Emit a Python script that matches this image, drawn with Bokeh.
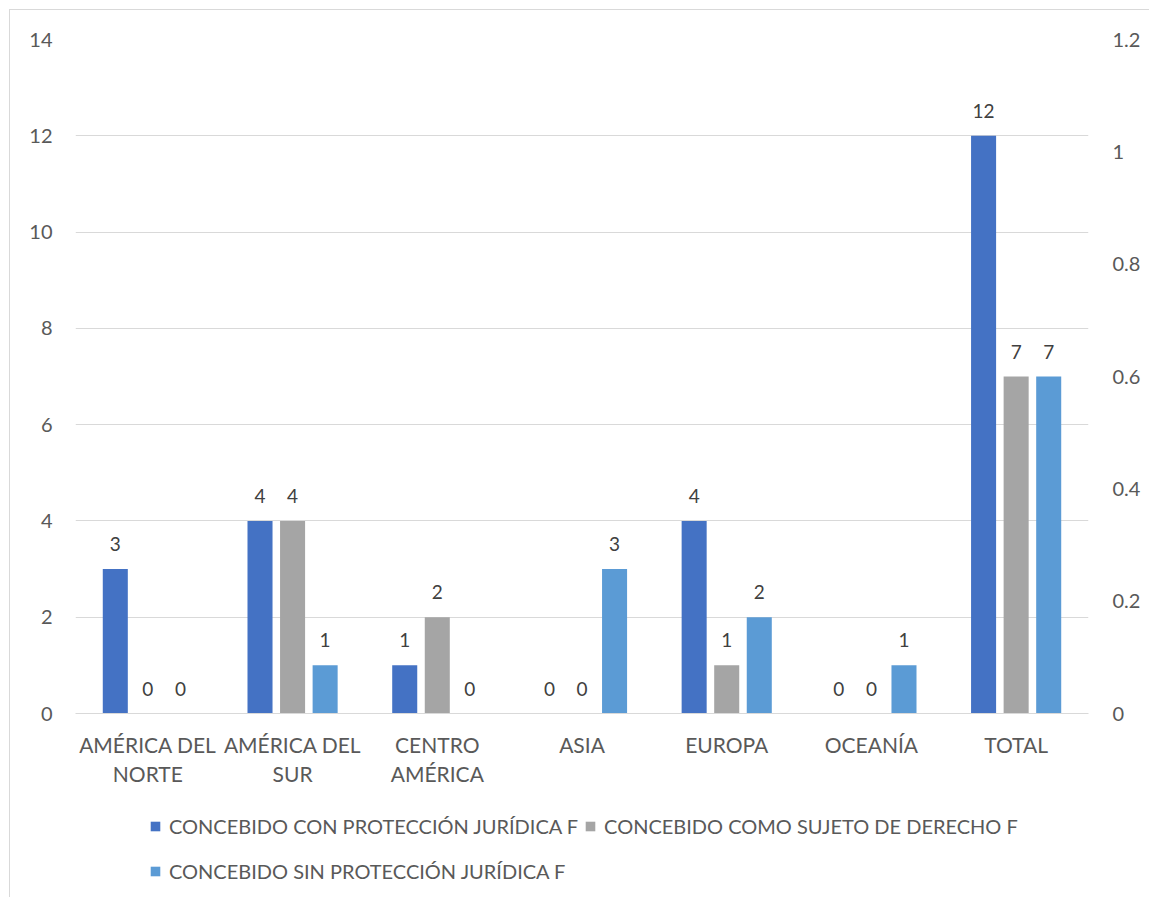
from bokeh.plotting import figure
from bokeh.layouts import column
from bokeh.models import (ColumnDataSource, FactorRange, Range1d, LinearAxis, FixedTicker,
                          CustomJSTickFormatter, Legend, LegendItem)
from bokeh.transform import dodge
from bokeh.core.properties import value
from bokeh.embed import file_html
from bokeh.resources import INLINE

categories = ["AMÉRICA DEL\nNORTE", "AMÉRICA DEL\nSUR", "CENTRO\nAMÉRICA", "ASIA", "EUROPA", "OCEANÍA", "TOTAL"]
con_proteccion = [3, 4, 1, 0, 4, 0, 12]
sujeto_derecho = [0, 4, 2, 0, 1, 0, 7]
sin_proteccion = [0, 1, 0, 3, 2, 1, 7]
series_names = ["CONCEBIDO CON PROTECCIÓN JURÍDICA F",
                "CONCEBIDO COMO SUJETO DE DERECHO F",
                "CONCEBIDO SIN PROTECCIÓN JURÍDICA F"]
left_ticks = [0, 2, 4, 6, 8, 10, 12, 14]
right_ticks = [0, 0.2, 0.4, 0.6, 0.8, 1.0, 1.2]

colors = ["#4472C4", "#A5A5A5", "#5B9BD5"]
FONT = "Lato"
TXT = "#595959"
BORDER = "1px solid #D9D9D9"

src = ColumnDataSource(dict(
    cat=categories,
    a=con_proteccion, b=sujeto_derecho, c=sin_proteccion,
    al=[str(v) for v in con_proteccion],
    bl=[str(v) for v in sujeto_derecho],
    cl=[str(v) for v in sin_proteccion],
))

p = figure(width=1140, height=790, x_range=FactorRange(factors=categories, range_padding=0),
           y_range=Range1d(0, 14), output_backend="svg", toolbar_location=None,
           min_border_left=65, min_border_right=62, min_border_top=29, min_border_bottom=87)
p.outline_line_color = None
p.background_fill_color = "white"
p.border_fill_color = "white"
p.margin = (9, 0, 0, 9)
p.styles = {"border-left": BORDER, "border-top": BORDER}

p.extra_y_ranges = {"right": Range1d(0, 1.2)}

offsets = [-0.225, 0.0, 0.225]
cols = ["a", "b", "c"]
lcols = ["al", "bl", "cl"]
for off, col, lcol, color in zip(offsets, cols, lcols, colors):
    p.vbar(x=dodge("cat", off, range=p.x_range), top=col, width=0.173, source=src,
           fill_color=color, line_color=None)
    p.text(x=dodge("cat", off, range=p.x_range), y=col, text=lcol, source=src,
           text_align="center", text_baseline="middle", y_offset=-25,
           text_font=value(FONT), text_font_size="19px", text_color="#404040")

# left axis
ya = p.yaxis[0]
ya.ticker = FixedTicker(ticks=left_ticks)
ya.axis_line_color = None
ya.major_tick_line_color = None
ya.major_tick_out = 0
ya.minor_tick_line_color = None
ya.minor_tick_out = 0
ya.major_label_standoff = 23
ya.major_label_text_font = FONT
ya.major_label_text_font_size = "20px"
ya.major_label_text_color = TXT

p.ygrid.ticker = FixedTicker(ticks=left_ticks)
p.ygrid.grid_line_color = "#D9D9D9"
p.xgrid.grid_line_color = None

# right axis
ra = LinearAxis(y_range_name="right", ticker=FixedTicker(ticks=right_ticks),
                formatter=CustomJSTickFormatter(code="return String(Math.round(tick*10)/10);"))
ra.axis_line_color = None
ra.major_tick_line_color = None
ra.major_tick_out = 0
ra.minor_tick_line_color = None
ra.minor_tick_out = 0
ra.major_label_standoff = 24
ra.major_label_text_font = FONT
ra.major_label_text_font_size = "20px"
ra.major_label_text_color = TXT
p.add_layout(ra, "right")

# x axis
xa = p.xaxis[0]
xa.axis_line_color = "#D9D9D9"
xa.major_tick_line_color = None
xa.major_tick_out = 0
xa.minor_tick_line_color = None
xa.minor_tick_out = 0
xa.major_label_standoff = 18
xa.major_label_text_font = FONT
xa.major_label_text_font_size = "21px"
xa.major_label_text_color = TXT
xa.major_label_text_line_height = 1.16

# legend strip (hidden renderers carry the series styles for the legend keys)
lg = figure(width=1140, height=98, x_range=Range1d(0, 1), y_range=Range1d(0, 1),
            x_axis_location=None, y_axis_location=None,
            output_backend="svg", toolbar_location=None,
            min_border_left=0, min_border_right=0, min_border_top=0, min_border_bottom=0)
lg.grid.visible = False
lg.outline_line_color = None
lg.margin = (0, 0, 0, 9)
lg.styles = {"border-left": BORDER}
keys = [lg.vbar(x=col, top=col, width=0.1, source=src, fill_color=c, line_color=None, visible=False)
        for col, c in zip(cols, colors)]
legend = Legend(items=[LegendItem(label=n, renderers=[r]) for n, r in zip(series_names, keys)],
                orientation="horizontal", ncols=2, location=(74, 7),
                glyph_width=12, glyph_height=12, label_height=39, spacing=6,
                label_standoff=8, padding=0, margin=0,
                label_text_font=FONT, label_text_font_size="20px", label_text_color=TXT,
                border_line_color=None, background_fill_alpha=0)
lg.add_layout(legend, "center")

layout = column(p, lg, spacing=0)
open("out.html", "w").write(file_html(layout, INLINE))
